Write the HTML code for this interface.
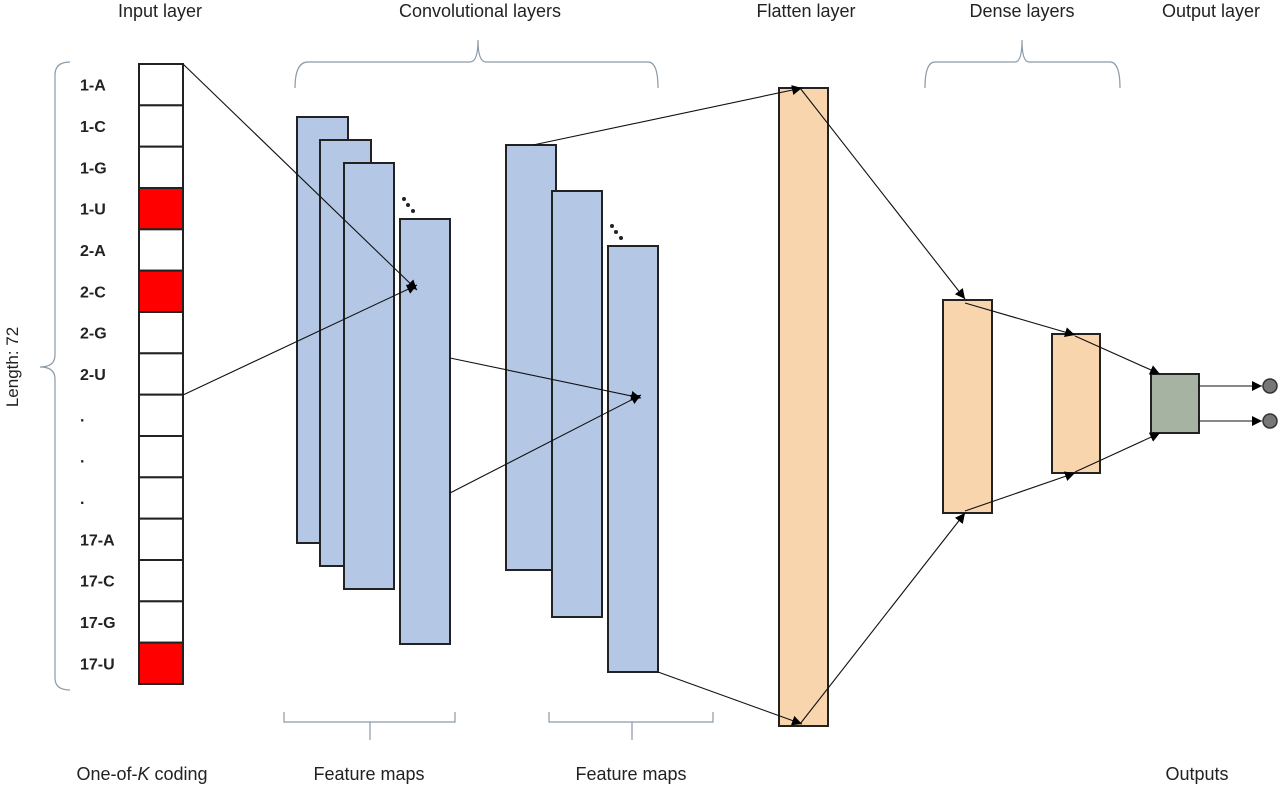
<!DOCTYPE html>
<html><head><meta charset="utf-8"><style>
body{margin:0;background:#fff;}
svg{display:block;font-family:"Liberation Sans",sans-serif;}
</style></head><body>
<svg width="1280" height="787" viewBox="0 0 1280 787">
<defs><marker id="ah" viewBox="0 0 10 10" refX="10" refY="5" markerWidth="10" markerHeight="10" markerUnits="userSpaceOnUse" orient="auto"><path d="M0,0L10,5L0,10z" fill="#000"/></marker></defs>
<g font-size="18" fill="#222">
<text x="160" y="17" text-anchor="middle">Input layer</text>
<text x="480" y="17" text-anchor="middle">Convolutional layers</text>
<text x="806" y="17" text-anchor="middle">Flatten layer</text>
<text x="1022" y="17" text-anchor="middle">Dense layers</text>
<text x="1211" y="17" text-anchor="middle">Output layer</text>
<text x="142" y="780" text-anchor="middle">One-of-<tspan font-style="italic">K</tspan> coding</text>
<text x="369" y="780" text-anchor="middle">Feature maps</text>
<text x="631" y="780" text-anchor="middle">Feature maps</text>
<text x="1197" y="780" text-anchor="middle">Outputs</text>
<text transform="translate(18,367) rotate(-90)" text-anchor="middle" font-size="17">Length: 72</text>
</g>
<g fill="none" stroke="#8a9aa8" stroke-width="1.2">
<path d="M70,62 Q55,62 55,75 L55,355 Q55,367 40,367 Q55,367 55,379 L55,678 Q55,690 70,690"/>
<path d="M295,88 Q295,62 308,62 L470,62 Q478,62 478,40 Q478,62 486,62 L648,62 Q658,62 658,88"/>
<path d="M925,88 Q925,62 935,62 L1015,62 Q1022,62 1022,40 Q1022,62 1029,62 L1110,62 Q1120,62 1120,88"/>
<path d="M284,712 L284,722 L370,722 L370,740 M370,722 L455,722 L455,712"/>
<path d="M549,712 L549,722 L632,722 L632,740 M632,722 L713,722 L713,712"/>
</g>
<g id="input"></g>
<g stroke="#222" stroke-width="2" fill="#b4c7e4">
<rect x="297" y="117" width="51" height="426"/>
<rect x="320" y="140" width="51" height="426"/>
<rect x="344" y="163" width="50" height="426"/>
<rect x="400" y="219" width="50" height="425"/>
<rect x="506" y="145" width="50" height="425"/>
<rect x="552" y="191" width="50" height="426"/>
<rect x="608" y="246" width="50" height="426"/>
</g>
<g fill="#222">
<circle cx="404" cy="199" r="2"/><circle cx="408" cy="205" r="2"/><circle cx="413" cy="211" r="2"/>
<circle cx="612" cy="226" r="2"/><circle cx="616" cy="232" r="2"/><circle cx="621" cy="238" r="2"/>
</g>
<g stroke="#222" stroke-width="2" fill="#f9d5ae">
<rect x="779" y="88" width="49" height="638"/>
<rect x="943" y="300" width="49" height="213"/>
<rect x="1052" y="334" width="48" height="139"/>
<rect x="1151" y="374" width="48" height="59" fill="#a6b3a3"/>
</g>
<g fill="#777" stroke="#333" stroke-width="1.5">
<circle cx="1270" cy="386" r="7"/>
<circle cx="1270" cy="421" r="7"/>
</g>
<g stroke="#111" stroke-width="1.1" marker-end="url(#ah)">
<line x1="183" y1="64" x2="417" y2="290"/>
<line x1="183" y1="395" x2="417" y2="285"/>
<line x1="450" y1="358" x2="641" y2="398"/>
<line x1="450" y1="493" x2="641" y2="395"/>
<line x1="533" y1="145" x2="802" y2="88"/>
<line x1="658" y1="672" x2="802" y2="724"/>
<line x1="800" y1="88" x2="965" y2="299"/>
<line x1="800" y1="724" x2="965" y2="513"/>
<line x1="965" y1="303" x2="1075" y2="335"/>
<line x1="965" y1="511" x2="1075" y2="473"/>
<line x1="1075" y1="336" x2="1160" y2="374"/>
<line x1="1075" y1="472" x2="1160" y2="433"/>
<line x1="1199" y1="386" x2="1262" y2="386"/>
<line x1="1199" y1="421" x2="1262" y2="421"/>
</g>
</svg>
<script>
const rowLabels=["1-A","1-C","1-G","1-U","2-A","2-C","2-G","2-U",".",".",".","17-A","17-C","17-G","17-U"];
const rowActive=[0,0,0,1,0,1,0,0,0,0,0,0,0,0,1];
const g=document.getElementById('input');
const NS='http://www.w3.org/2000/svg';
const top0=64,bot=684,h=(bot-top0)/rowLabels.length;
rowLabels.forEach((lab,i)=>{
 const r=document.createElementNS(NS,'rect');
 r.setAttribute('x',139);r.setAttribute('y',top0+i*h);r.setAttribute('width',44);r.setAttribute('height',h);
 r.setAttribute('fill',rowActive[i]?'#f00':'#fff');r.setAttribute('stroke','#222');r.setAttribute('stroke-width',2);
 
 
 g.appendChild(r);
 const t=document.createElementNS(NS,'text');
 t.setAttribute('x',80);t.setAttribute('y',top0+i*h+h/2+6);
 t.setAttribute('font-size','16');t.setAttribute('font-weight','bold');t.setAttribute('fill','#222');
 t.textContent=lab;
 
 
 g.appendChild(t);
});
</script>
</body></html>
